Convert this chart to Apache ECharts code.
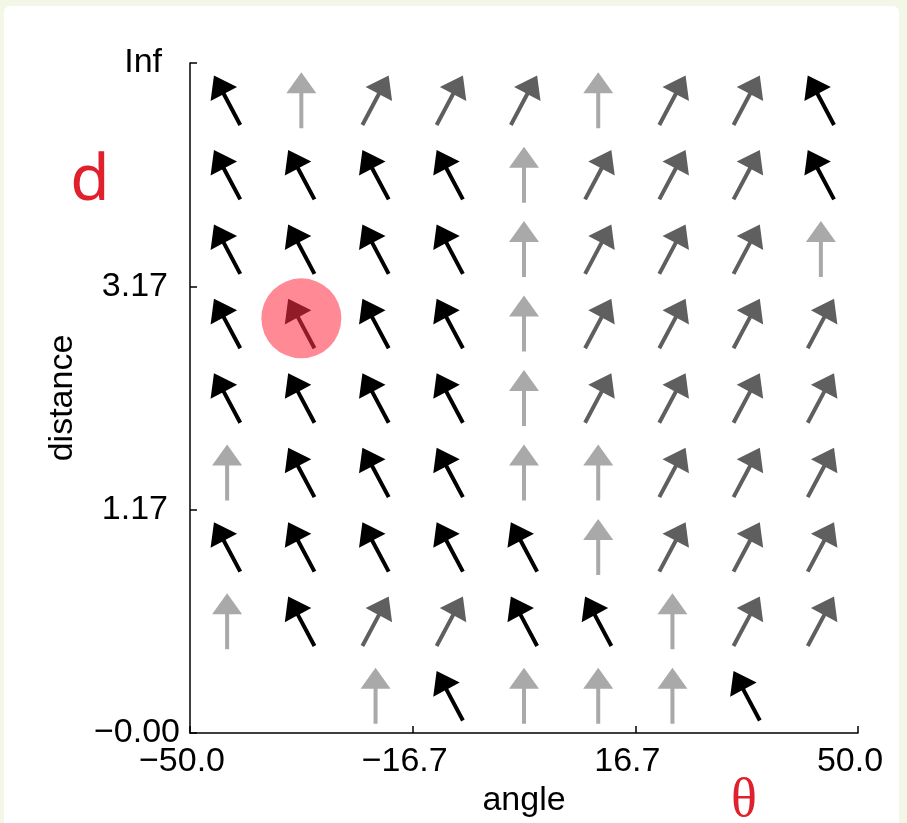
<!DOCTYPE html>
<html>
<head>
<meta charset="utf-8">
<script src="https://cdn.jsdelivr.net/npm/echarts@6/dist/echarts.min.js"></script>
<style>
  html, body { margin: 0; padding: 0; background: #f3f7e8; }
  #main { width: 907px; height: 823px; }
</style>
</head>
<body>
<div id="main"></div>
<script>
// arrow grid, top row (Inf) first, left column (-50) first
// B = black (points up-left), G = light gray (points up), D = dark gray (points up-right), . = no arrow
const arrowRows = [
  'BGDDDGDDB',
  'BBBBGDDDB',
  'BBBBGDDDG',
  'BBBBGDDDD',
  'BBBBGDDDD',
  'GBBBGGDDD',
  'BBBBBGDDD',
  'GBDDBBGDD',
  '..GBGGGB.'
];
const xTickLabels = ['\u221250.0', '\u221216.7', '16.7', '50.0'];
const yTickLabels = ['\u22120.00', '1.17', '3.17', 'Inf'];
const highlightCell = [1, 3]; // column, row counted from top

const nCols = 9;
const nRows = 9;
const arrowStyles = {
  B: { color: '#000000', rotate: 28 },
  G: { color: '#a9a9a9', rotate: 0 },
  D: { color: '#5f5f5f', rotate: -28 }
};
const arrowPath = 'path://M15 0 L30 21 L17 21 L17 56 L13 56 L13 21 L0 21 Z';
const labelFont = 'Liberation Sans';

function cellsOf(code) {
  const out = [];
  arrowRows.forEach((row, r) => {
    row.split('').forEach((c, col) => {
      if (c === code) out.push([col + 0.5, nRows - r - 0.5]);
    });
  });
  return out;
}

const series = Object.keys(arrowStyles).map((code) => ({
  type: 'scatter',
  data: cellsOf(code),
  symbol: arrowPath,
  symbolSize: [30, 56],
  symbolRotate: arrowStyles[code].rotate,
  itemStyle: { color: arrowStyles[code].color, opacity: 1 },
  silent: true,
  z: 2
}));

series.push({
  type: 'scatter',
  data: [[highlightCell[0] + 0.5, nRows - highlightCell[1] - 0.5 + 0.07]],
  symbol: 'circle',
  symbolSize: 80,
  itemStyle: { color: 'rgba(255, 50, 70, 0.57)', opacity: 1 },
  silent: true,
  z: 3
});

const tickStyle = { fontSize: 34, fontFamily: labelFont, color: '#000' };

const chart = echarts.init(document.getElementById('main'));
const option = {
  backgroundColor: '#f3f7e8',
  animation: false,
  grid: { left: 190, right: 49, top: 63, bottom: 90 },
  xAxis: {
    type: 'value',
    min: 0,
    max: nCols,
    interval: 3,
    name: 'angle',
    nameLocation: 'middle',
    nameGap: 42,
    nameTextStyle: { fontSize: 34, fontFamily: labelFont, color: '#000' },
    axisLine: { lineStyle: { color: '#000', width: 1.5 } },
    axisTick: { inside: true, length: 7, lineStyle: { color: '#000', width: 1.5 } },
    axisLabel: {
      margin: 12,
      formatter: (v) => '{t|' + xTickLabels[Math.round(v / 3)] + '}',
      rich: { t: Object.assign({ padding: [0, 16, 0, 0] }, tickStyle) }
    },
    splitLine: { show: false }
  },
  yAxis: {
    type: 'value',
    min: 0,
    max: nRows,
    interval: 3,
    name: 'distance',
    nameLocation: 'middle',
    nameGap: 110,
    nameTextStyle: { fontSize: 34, fontFamily: labelFont, color: '#000' },
    axisLine: { show: true, lineStyle: { color: '#000', width: 1.5 } },
    axisTick: { show: true, inside: true, length: 7, lineStyle: { color: '#000', width: 1.5 } },
    axisLabel: {
      margin: 10,
      formatter: (v) => {
        const i = Math.round(v / 3);
        const key = i === 0 ? 'a' : (i === 3 ? 'c' : 'b');
        return '{' + key + '|' + yTickLabels[i] + '}';
      },
      rich: {
        a: Object.assign({ padding: [0, 0, 0, 0] }, tickStyle),
        b: Object.assign({ padding: [0, 12, 0, 0] }, tickStyle),
        c: Object.assign({ padding: [0, 18, 0, 0] }, tickStyle)
      }
    },
    splitLine: { show: false }
  },
  graphic: [
    {
      type: 'rect',
      shape: { x: 4, y: 6, width: 895, height: 840, r: 6 },
      style: { fill: '#ffffff' },
      z: -10,
      silent: true
    },
    {
      type: 'text',
      x: 90,
      y: 182,
      style: {
        text: 'd', fill: '#e0202c', fontSize: 64, fontFamily: 'Noto Sans',
        align: 'center', verticalAlign: 'middle'
      }
    },
    {
      type: 'text',
      x: 744,
      y: 802,
      style: {
        text: '\u03b8', fill: '#e0202c', fontSize: 54, fontFamily: 'Liberation Serif',
        align: 'center', verticalAlign: 'middle'
      }
    }
  ],
  series: series
};

option && chart.setOption(option);
</script>
</body>
</html>
